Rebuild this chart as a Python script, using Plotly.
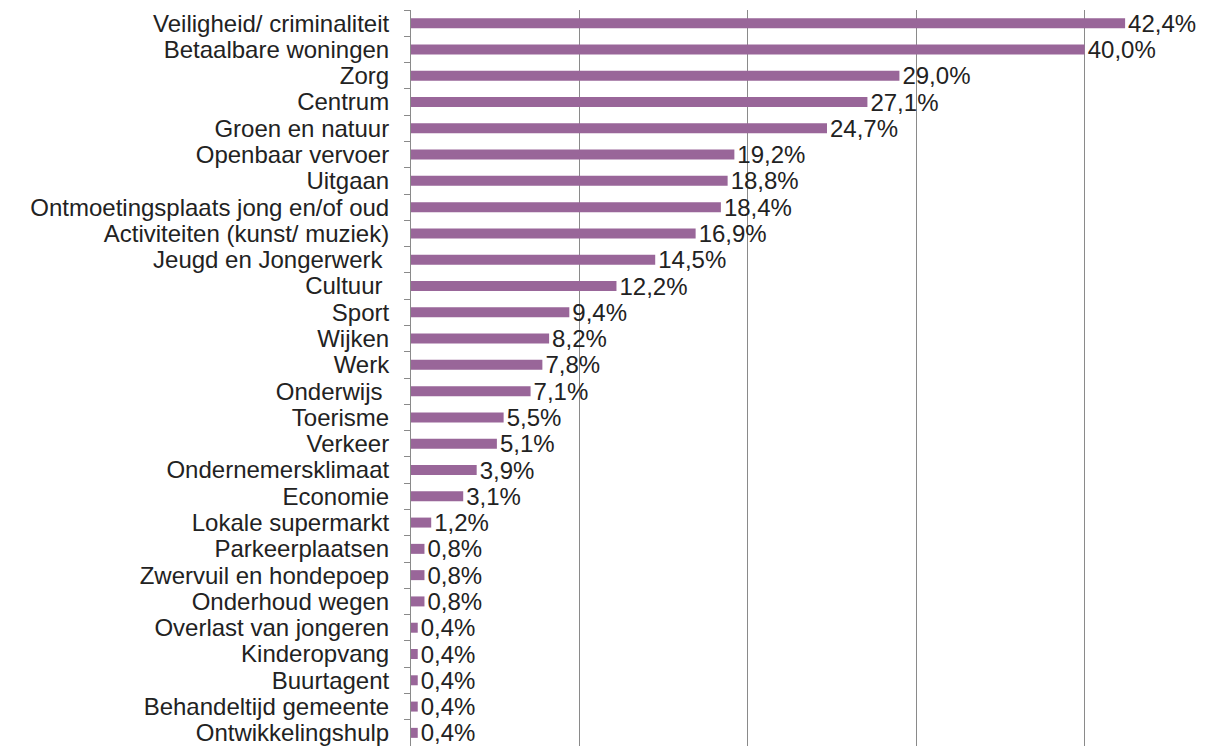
import plotly.graph_objects as go

categories = [
    "Veiligheid/ criminaliteit", "Betaalbare woningen", "Zorg", "Centrum",
    "Groen en natuur", "Openbaar vervoer", "Uitgaan",
    "Ontmoetingsplaats jong en/of oud", "Activiteiten (kunst/ muziek)",
    "Jeugd en Jongerwerk ", "Cultuur ", "Sport", "Wijken", "Werk",
    "Onderwijs ", "Toerisme", "Verkeer", "Ondernemersklimaat", "Economie",
    "Lokale supermarkt", "Parkeerplaatsen", "Zwervuil en hondepoep",
    "Onderhoud wegen", "Overlast van jongeren", "Kinderopvang",
    "Buurtagent", "Behandeltijd gemeente", "Ontwikkelingshulp",
]
values = [
    42.4, 40.0, 29.0, 27.1, 24.7, 19.2, 18.8, 18.4, 16.9, 14.5, 12.2, 9.4,
    8.2, 7.8, 7.1, 5.5, 5.1, 3.9, 3.1, 1.2, 0.8, 0.8, 0.8, 0.4, 0.4, 0.4,
    0.4, 0.4,
]
grid_ticks = [0, 10, 20, 30, 40]

FONT = "Liberation Sans, Arial, sans-serif"
FS = 24

fig = go.Figure(
    go.Bar(
        x=values,
        y=categories,
        orientation="h",
        marker=dict(color="#996699", line=dict(width=0)),
        texttemplate="%{x:.1f}%",
        textposition="outside",
        constraintext="none",
        textfont=dict(family=FONT, size=FS, color="#222222"),
        cliponaxis=False,
    )
)

fig.update_layout(
    width=1203,
    height=738,
    margin=dict(l=403, r=0, t=2, b=0, autoexpand=False),
    paper_bgcolor="white",
    plot_bgcolor="white",
    separators=",.",
    bargap=0.62,
    showlegend=False,
    font=dict(family=FONT, size=FS, color="#222222"),
    uniformtext=dict(minsize=FS, mode="show"),
)
fig.update_xaxes(
    range=[0, 47.5],
    tickvals=grid_ticks,
    showticklabels=False,
    showgrid=True,
    gridcolor="#8a8a8a",
    gridwidth=1,
    zeroline=False,
    showline=False,
    ticks="",
    automargin=False,
)
fig.update_yaxes(
    autorange="reversed",
    tickmode="array",
    tickvals=categories,
    ticktext=categories,
    showline=True,
    linecolor="#8a8a8a",
    linewidth=1,
    ticks="outside",
    tickson="boundaries",
    ticklen=6,
    tickcolor="#8a8a8a",
    ticklabelstandoff=16,
    showgrid=False,
    automargin=False,
    tickfont=dict(family=FONT, size=FS, color="#222222"),
)

fig.write_html("out.html")
